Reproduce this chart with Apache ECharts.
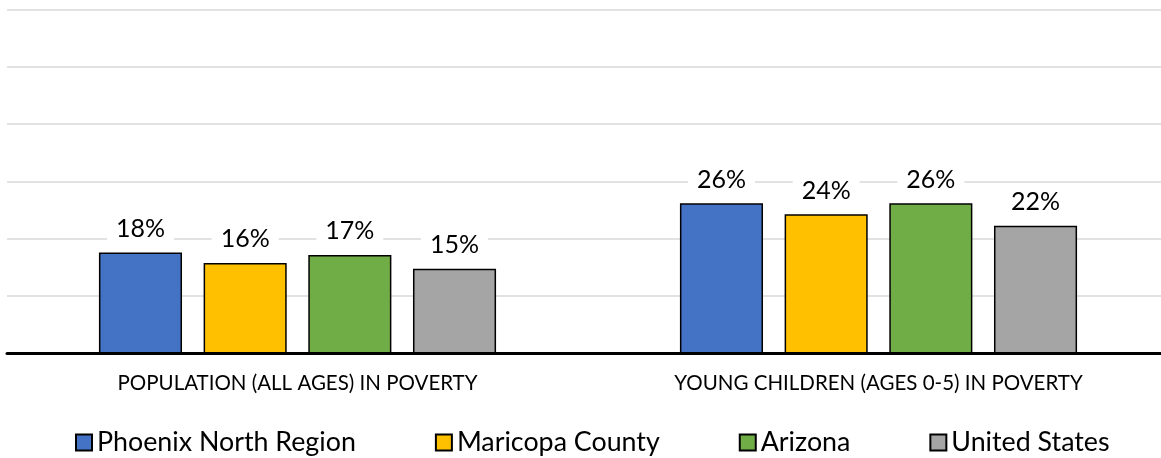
<!DOCTYPE html>
<html>
<head>
<meta charset="utf-8">
<script src="https://cdn.jsdelivr.net/npm/echarts@6/dist/echarts.min.js"></script>
<style>html,body{margin:0;padding:0;background:#fff;overflow:hidden;}#c{width:1180px;height:458px;}</style>
</head>
<body>
<div id="c"></div>
<script>
const categories = ['POPULATION (ALL AGES) IN POVERTY', 'YOUNG CHILDREN (AGES 0-5) IN POVERTY'];
const seriesNames = ['Phoenix North Region', 'Maricopa County', 'Arizona', 'United States'];
const phoenixNorth = [17.6, 26.2];
const maricopa = [15.8, 24.3];
const arizona = [17.2, 26.2];
const unitedStates = [14.8, 22.3];
const colors = ['#4472C4', '#FFC000', '#70AD47', '#A5A5A5'];
const allValues = [phoenixNorth, maricopa, arizona, unitedStates];

const FONT = 'Lato';
const chart = echarts.init(document.getElementById('c'), null, {renderer: 'canvas'});
chart.setOption({
  animation: false,
  backgroundColor: '#fff',
  textStyle: {fontFamily: FONT},
  grid: {left: 7, width: 1162, top: 9.5, bottom: 104.5, containLabel: false},
  legend: {
    left: 70, top: 424,
    icon: 'rect', itemWidth: 16, itemHeight: 16, itemGap: 79,
    textStyle: {fontFamily: FONT, fontSize: 26.8, color: '#000'},
    data: seriesNames
  },
  xAxis: {
    type: 'category', data: categories,
    axisLine: {lineStyle: {color: '#000', width: 3}},
    axisTick: {show: false},
    axisLabel: {fontFamily: FONT, fontSize: 20.5, color: '#000', margin: 19}
  },
  yAxis: {
    type: 'value', min: 0, max: 60, interval: 10,
    axisLabel: {show: false}, axisLine: {show: false}, axisTick: {show: false},
    splitLine: {lineStyle: {color: '#d9d9d9', width: 1.5}}
  },
  series: allValues.map((vals, i) => ({
    name: seriesNames[i], type: 'bar', data: vals,
    barWidth: '14.3%', barGap: '26%', barCategoryGap: '31%',
    itemStyle: {color: colors[i], borderColor: '#000', borderWidth: 1.5},
    label: {
      show: true, position: 'top', distance: 8,
      formatter: p => Math.round(p.value) + '%',
      fontFamily: FONT, fontSize: 25, color: '#000',
      backgroundColor: '#fff', padding: [3, 9]
    }
  }))
});
</script>
</body>
</html>
